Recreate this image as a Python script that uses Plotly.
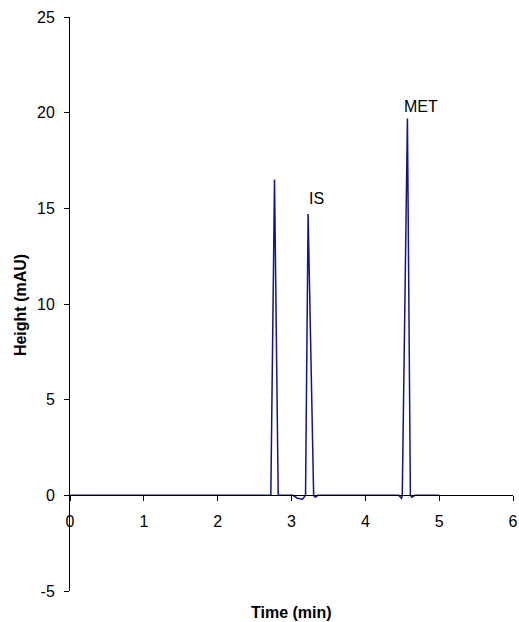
import plotly.graph_objects as go

# chromatogram trace (min, mAU)
time_min = [0, 2.72, 2.77, 2.82, 2.86, 3.02, 3.08, 3.15, 3.19, 3.225, 3.30, 3.32, 3.36,
            4.45, 4.49, 4.50, 4.57, 4.61, 4.63, 4.67, 5.0]
height_mau = [0, 0, 16.5, 0, 0, 0, -0.15, -0.2, 0, 14.7, 0, -0.1, 0,
              0, -0.15, 0, 19.7, 0, -0.1, 0, 0]

peak_names = ["IS", "MET"]
peak_x = [3.34, 4.75]
peak_y = [15.5, 20.3]

y_ticks = [-5, 0, 5, 10, 15, 20, 25]
y_labels = ["-5", "0", "5", "10", "15", "20", "25"]

font = "Liberation Sans, Arial, sans-serif"

fig = go.Figure()
fig.add_trace(go.Scatter(x=time_min, y=height_mau, mode="lines",
                         line=dict(color="#14148a", width=1.5), showlegend=False))

for name, px_, py_ in zip(peak_names, peak_x, peak_y):
    fig.add_annotation(x=px_, y=py_, text=name, showarrow=False,
                       font=dict(family=font, size=16, color="black"))

fig.add_annotation(text="<b>Height (mAU)</b>", xref="paper", yref="paper",
                   x=-0.113, y=0.498, xanchor="center", yanchor="middle",
                   textangle=-90, showarrow=False,
                   font=dict(family=font, size=16, color="black"))
fig.add_annotation(text="<b>Time (min)</b>", xref="paper", yref="paper",
                   x=0.5, y=-0.038, xanchor="center", yanchor="middle",
                   showarrow=False,
                   font=dict(family=font, size=16, color="black"))

fig.update_layout(
    width=519, height=622,
    margin=dict(l=70, r=6, t=17, b=31),
    plot_bgcolor="white", paper_bgcolor="white",
    font=dict(family=font, size=16, color="black"),
    xaxis=dict(range=[0, 6], dtick=1, showgrid=False, zeroline=False,
               showline=True, linecolor="black", linewidth=1,
               ticks="outside", ticklen=5, tickcolor="black",
               anchor="free", position=1/6, ticklabelstandoff=6,
               automargin=False),
    yaxis=dict(range=[-5, 25], tickvals=y_ticks, ticktext=y_labels,
               showgrid=False, zeroline=False,
               showline=True, linecolor="black", linewidth=1,
               ticks="outside", ticklen=5, tickcolor="black",
               ticklabelstandoff=6, automargin=False),
)

# drop the default 8px body margin so the figure fills the window
fig.write_html("out.html", config={"displayModeBar": False},
               post_script="document.body.style.margin='0';document.body.style.overflow='hidden';")
